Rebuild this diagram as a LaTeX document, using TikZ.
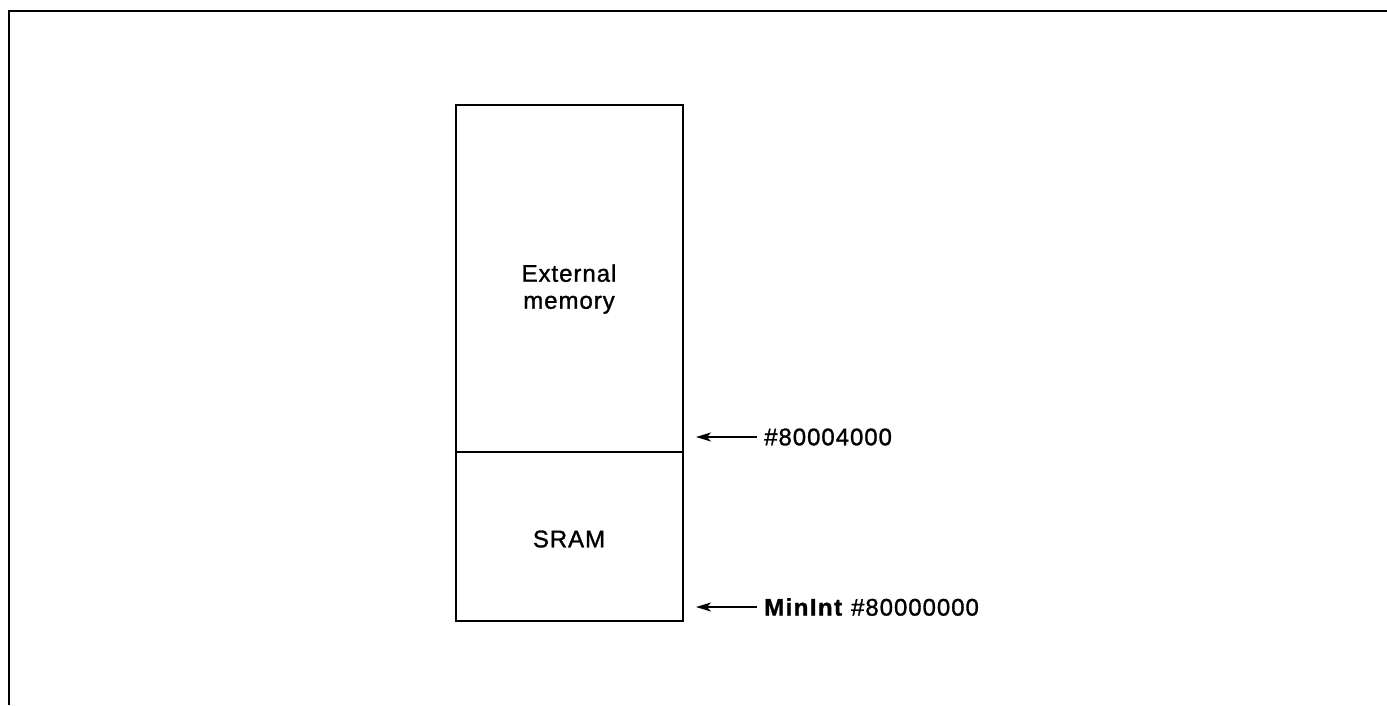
\documentclass[tikz,border=0pt]{standalone}
\usepackage{fontspec}
\setmainfont{Liberation Sans}[LetterSpace=4,FakeBold=1.2]
\usetikzlibrary{arrows.meta}
\begin{document}
\begin{tikzpicture}[x=1pt,y=-1pt,
  frame/.style={line width=1.8pt},
  memblock/.style={draw,line width=1.6pt,minimum width=227pt,inner sep=0pt,anchor=north west},
  lbl/.style={font=\fontsize{24}{27}\selectfont,align=center,inner sep=0pt},
  addr/.style={font=\fontsize{24}{27}\selectfont,anchor=west,inner sep=0pt},
  ptr/.style={line width=1.4pt,-{Stealth[length=15pt,width=9pt,inset=4pt]}}]
\useasboundingbox (0,0) rectangle (1387,705);
\draw[frame] (9,705) -- (9,11) -- (1387,11);
\node[memblock,minimum height=347pt] (ext) at (455,104) {};
\node[memblock,minimum height=169pt] (sram) at (455,451) {};
\node[lbl] (extlbl) at (569,289) {External\\memory};
\node[lbl] (sramlbl) at (569,539) {SRAM};
\node[addr] (a1) at (764,437) {\#80004000};
\node[addr] (a2) at (764,607) {\textbf{\addfontfeatures{LetterSpace=6}MinInt} \#80000000};
\coordinate (t1) at (696,437);
\coordinate (t2) at (696,607);
\draw[ptr] ([xshift=-7pt]a1.west) -- (t1);
\draw[ptr] ([xshift=-7pt]a2.west) -- (t2);
\end{tikzpicture}
\end{document}
